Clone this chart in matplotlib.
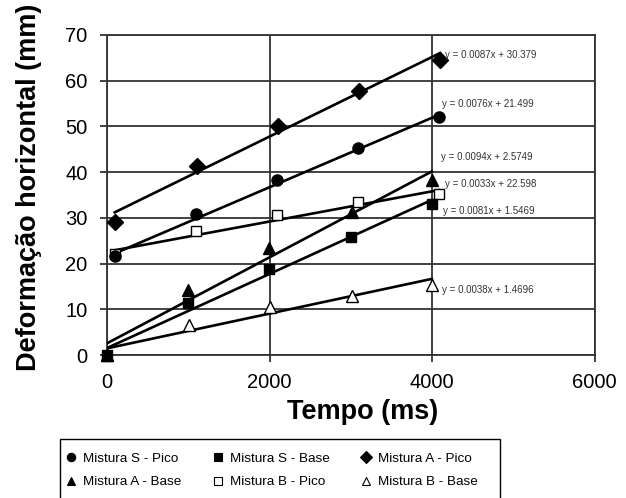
import numpy as np
import matplotlib
matplotlib.use('Agg')
from matplotlib import pyplot as plt
from matplotlib.lines import Line2D
from matplotlib.patches import Rectangle

plt.rcParams['font.family'] = ['Liberation Sans', 'DejaVu Sans']

# series: name, times (ms), deformation (mm)
names = ['Mistura S - Pico', 'Mistura S - Base', 'Mistura A - Pico',
         'Mistura A - Base', 'Mistura B - Pico', 'Mistura B - Base']
x_s_pico = [95, 1092, 2086, 3091, 4085]
y_s_pico = [21.6, 30.8, 38.3, 45.3, 52.0]
x_s_base = [0, 998, 1995, 2997, 3995]
y_s_base = [0.0, 11.3, 18.9, 25.9, 33.0]
x_a_pico = [95, 1101, 2106, 3103, 4097]
y_a_pico = [29.1, 41.4, 50.1, 57.8, 64.5]
x_a_base = [0, 998, 1995, 3017, 3995]
y_a_base = [0.0, 14.2, 23.5, 31.2, 38.3]
x_b_pico = [95, 1092, 2086, 3091, 4085]
y_b_pico = [22.0, 27.2, 30.6, 33.4, 35.2]
x_b_base = [0, 1006, 2003, 3009, 3995]
y_b_base = [0.0, 6.5, 10.4, 12.9, 15.3]

# linear trend lines as printed on the chart
slopes = [0.0076, 0.0081, 0.0087, 0.0094, 0.0033, 0.0038]
intercepts = [21.499, 1.5469, 30.379, 2.5749, 22.598, 1.4696]
eq_texts = ['y = 0.0076x + 21.499', 'y = 0.0081x + 1.5469', 'y = 0.0087x + 30.379',
            'y = 0.0094x + 2.5749', 'y = 0.0033x + 22.598', 'y = 0.0038x + 1.4696']

xs = [x_s_pico, x_s_base, x_a_pico, x_a_base, x_b_pico, x_b_base]
ys = [y_s_pico, y_s_base, y_a_pico, y_a_base, y_b_pico, y_b_base]

markers = ['o', 's', 'D', '^', 's', '^']
faces = ['black', 'black', 'black', 'black', 'white', 'white']
msizes = [8, 7.5, 8, 8.5, 7.5, 8.5]
eq_pos = [(4122, 54.9), (4137, 31.6), (4160, 65.5), (4106, 43.4), (4157, 37.5), (4122, 14.2)]

fig = plt.figure(figsize=(6.26, 4.98), dpi=100)
ax = fig.add_axes([0.171, 0.287, 0.779, 0.643])

handles = []
for i in range(6):
    x = np.array(xs[i])
    xl = np.array([x.min(), x.max()])
    ax.plot(xl, slopes[i] * xl + intercepts[i], color='black', lw=1.9, zorder=3)
for i in [4, 5, 3, 1, 2, 0]:
    ax.plot(xs[i], ys[i], ls='none', marker=markers[i], ms=msizes[i],
            mfc=faces[i], mec='black', mew=1.0, zorder=4, clip_on=False)
for i in range(6):
    ax.text(eq_pos[i][0], eq_pos[i][1], eq_texts[i], fontsize=7, color='#333333',
            va='center', ha='left', zorder=5)
    handles.append(Line2D([], [], ls='none', marker=markers[i], ms=6,
                          mfc=faces[i], mec='black', mew=0.8, label=names[i]))

ax.set_xlim(0, 6000)
ax.set_ylim(0, 70)
ax.set_xticks([0, 2000, 4000, 6000])
ax.set_yticks(range(0, 80, 10))
ax.grid(True, color='#333333', lw=1.3)
ax.set_axisbelow(True)
for sp in ax.spines.values():
    sp.set_color('#333333')
    sp.set_linewidth(1.3)
ax.tick_params(axis='both', labelsize=14.5, length=5, width=1.3, color='#333333')
ax.tick_params(axis='y', pad=9)
ax.tick_params(axis='x', pad=8)
ax.set_xlabel('Tempo (ms)', fontsize=19.5, fontweight='bold')
ax.set_ylabel('Deformação horizontal (mm)', fontsize=19.5, fontweight='bold')
ax.xaxis.set_label_coords(0.525, -0.178)
ax.xaxis.label.set_va('center')
ax.yaxis.set_label_coords(-0.160, 0.525)
ax.yaxis.label.set_va('center')

# legend box, running off the bottom edge like the original
fig.patches.append(Rectangle((0.0965, -0.05), 0.703, 0.1685, transform=fig.transFigure,
                             fill=False, edgecolor='black', lw=1.0))
# legend filled row by row
order = [0, 3, 1, 4, 2, 5]
leg = fig.legend([handles[k] for k in order], [names[k] for k in order], ncol=3,
                 loc='upper left', bbox_to_anchor=(0.098, 0.0, 0.672, 0.099), mode='expand',
                 borderaxespad=0, fontsize=9.7, frameon=False,
                 handlelength=0.8, handletextpad=0.5, borderpad=0.3, labelspacing=0.8)

fig.savefig('out.png', dpi=100)
